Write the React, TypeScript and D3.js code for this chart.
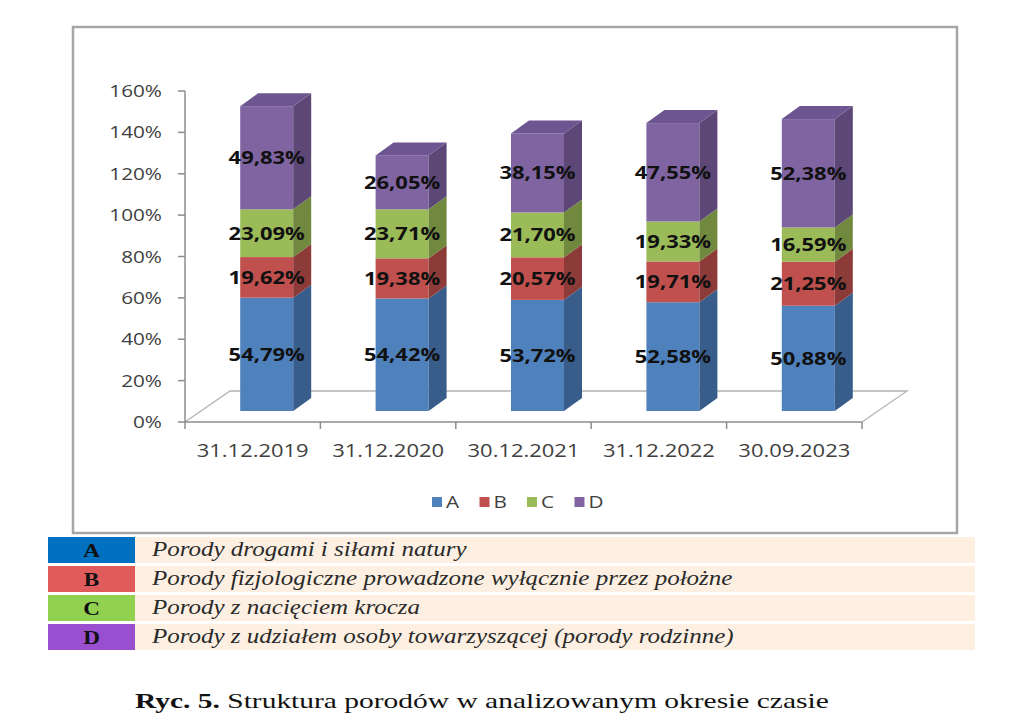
import React from 'react';
import * as d3 from 'd3';

const categories = ['31.12.2019', '31.12.2020', '30.12.2021', '31.12.2022', '30.09.2023'];
const seriesNames = ['A', 'B', 'C', 'D'];
const valuesA = [54.79, 54.42, 53.72, 52.58, 50.88];
const valuesB = [19.62, 19.38, 20.57, 19.71, 21.25];
const valuesC = [23.09, 23.71, 21.7, 19.33, 16.59];
const valuesD = [49.83, 26.05, 38.15, 47.55, 52.38];
const yTicks = [0, 20, 40, 60, 80, 100, 120, 140, 160];
const tableLetters = ['A', 'B', 'C', 'D'];
const tableTexts = [
  'Porody drogami i siłami natury',
  'Porody fizjologiczne prowadzone wyłącznie przez położne',
  'Porody z nacięciem krocza',
  'Porody z udziałem osoby towarzyszącej (porody rodzinne)',
];
const captionBold = 'Ryc. 5.';
const captionText = ' Struktura porodów w analizowanym okresie czasie';

const frontColors = ['#4f81bd', '#c0504d', '#9bbb59', '#8064a2'];
const sideColors = ['#385d8a', '#8c3b39', '#71893f', '#5c4776'];
const topColors = ['#4a76ad', '#ad4845', '#8aa84f', '#6c5590'];
const tableColors = ['#0070c0', '#e05c5c', '#92d050', '#9a4fd0'];

const SX = 1.22;

function T({ x, y, sx = SX, anchor = 'start', children, ...rest }: any) {
  return (
    <g transform={`translate(${x},${y}) scale(${sx},1)`}>
      <text textAnchor={anchor} {...rest}>
        {children}
      </text>
    </g>
  );
}

export default function App() {
  const series = [valuesA, valuesB, valuesC, valuesD];
  const data = categories.map((c, i) => {
    const row: any = { cat: c };
    seriesNames.forEach((s, k) => (row[s] = series[k][i]));
    return row;
  });
  const stacked = d3.stack().keys(seriesNames)(data as any);

  const x = d3.scaleBand<string>().domain(categories).range([185, 862]).padding(0);
  const y = d3.scaleLinear().domain([0, 160]).range([422, 91]);

  // 3D geometry
  const barW = 53;
  const offX = 14;
  const offY = -11;
  const dx = 18;
  const dy = -13;
  const floorDx = 45;
  const floorDy = -31;
  const fmt = (v: number) => v.toFixed(2).replace('.', ',') + '%';

  const axisFont = "'Open Sans', sans-serif";
  const y0 = y(0);
  const xr = x.range();

  return (
    <svg
      width={1024}
      height={722}
      style={{ position: 'absolute', left: 0, top: 0, background: '#fff' }}
    >
      <rect x={0} y={0} width={1024} height={722} fill="#fff" />
      {/* chart border */}
      <rect x={73} y={27} width={884} height={506} fill="#fff" stroke="#a6a6a6" strokeWidth={2.5} />

      {/* floor */}
      <path
        d={`M${xr[0]},${y0} L${xr[0] + floorDx},${y0 + floorDy} L${xr[1] + floorDx},${y0 + floorDy} L${xr[1]},${y0}`}
        fill="none"
        stroke="#b4b4b4"
        strokeWidth={1.3}
      />

      {/* y axis */}
      <line x1={185} x2={185} y1={y(160)} y2={y0} stroke="#8c8c8c" strokeWidth={1.5} />
      {yTicks.map((t) => (
        <g key={t}>
          <line x1={178} x2={185} y1={y(t)} y2={y(t)} stroke="#8c8c8c" strokeWidth={1.5} />
          <T x={162} y={y(t) + 6} anchor="end" fontFamily={axisFont} fontSize={17} fill="#404040">
            {t}%
          </T>
        </g>
      ))}

      {/* x axis */}
      <line x1={xr[0]} x2={xr[1]} y1={y0} y2={y0} stroke="#8c8c8c" strokeWidth={1.5} />
      {[...categories.map((c) => x(c) as number), xr[1]].map((px, i) => (
        <line key={i} x1={px} x2={px} y1={y0} y2={y0 + 7} stroke="#8c8c8c" strokeWidth={1.5} />
      ))}
      {categories.map((c) => (
        <T
          key={c}
          x={(x(c) as number) + x.bandwidth() / 2}
          y={457}
          anchor="middle"
          fontFamily={axisFont}
          fontSize={18}
          fill="#404040"
        >
          {c}
        </T>
      ))}

      {/* bars */}
      {stacked.map((layer, k) =>
        layer.map((d: any, i: number) => {
          const cat = categories[i];
          const xl = (x(cat) as number) + x.bandwidth() / 2 - barW / 2 + offX;
          const xrr = xl + barW;
          const yb = y(d[0]) + offY;
          const yt = y(d[1]) + offY;
          const isTop = k === stacked.length - 1;
          return (
            <g key={`${k}-${i}`}>
              <rect x={xl} y={yt} width={barW} height={yb - yt} fill={frontColors[k]} />
              <path
                d={`M${xrr},${yb} L${xrr + dx},${yb + dy} L${xrr + dx},${yt + dy} L${xrr},${yt} Z`}
                fill={sideColors[k]}
              />
              {isTop && (
                <path
                  d={`M${xl},${yt} L${xl + dx},${yt + dy} L${xrr + dx},${yt + dy} L${xrr},${yt} Z`}
                  fill={topColors[k]}
                />
              )}
            </g>
          );
        })
      )}
      {stacked.map((layer, k) =>
        layer.map((d: any, i: number) => {
          const cat = categories[i];
          const cx = (x(cat) as number) + x.bandwidth() / 2 + offX;
          const cy = (y(d[0]) + y(d[1])) / 2 + offY;
          return (
            <T
              key={`l${k}-${i}`}
              x={cx}
              y={cy + 6.5}
              anchor="middle"
              fontFamily={axisFont}
              fontWeight="bold"
              fontSize={18}
              fill="#111"
            >
              {fmt(series[k][i])}
            </T>
          );
        })
      )}

      {/* legend */}
      {seriesNames.map((s, k) => {
        const lx = 432 + k * 47.5;
        return (
          <g key={s}>
            <rect x={lx} y={497} width={10} height={10} fill={frontColors[k]} />
            <T x={lx + 14} y={508} fontFamily={axisFont} fontSize={17} fill="#404040">
              {s}
            </T>
          </g>
        );
      })}

      {/* table */}
      {tableLetters.map((l, k) => {
        const ry = 537 + k * 29;
        return (
          <g key={l}>
            <rect x={48} y={ry} width={87} height={26} fill={tableColors[k]} />
            <rect x={135} y={ry} width={840} height={26} fill="#fdf0e3" />
            <T
              x={91.5}
              y={ry + 20}
              anchor="middle"
              fontFamily="'Liberation Serif', serif"
              fontWeight="bold"
              fontSize={19}
              fill="#111"
            >
              {l}
            </T>
            <T
              x={152}
              y={ry + 19}
              sx={1.25}
              fontFamily="'Liberation Serif', serif"
              fontStyle="italic"
              fontSize={20}
              fill="#2a2a2a"
            >
              {tableTexts[k]}
            </T>
          </g>
        );
      })}

      {/* caption */}
      <T x={135} y={708} sx={1.34} fontFamily="'Liberation Serif', serif" fontSize={22} fill="#111">
        <tspan fontWeight="bold">{captionBold}</tspan>
        <tspan>{captionText}</tspan>
      </T>
    </svg>
  );
}
